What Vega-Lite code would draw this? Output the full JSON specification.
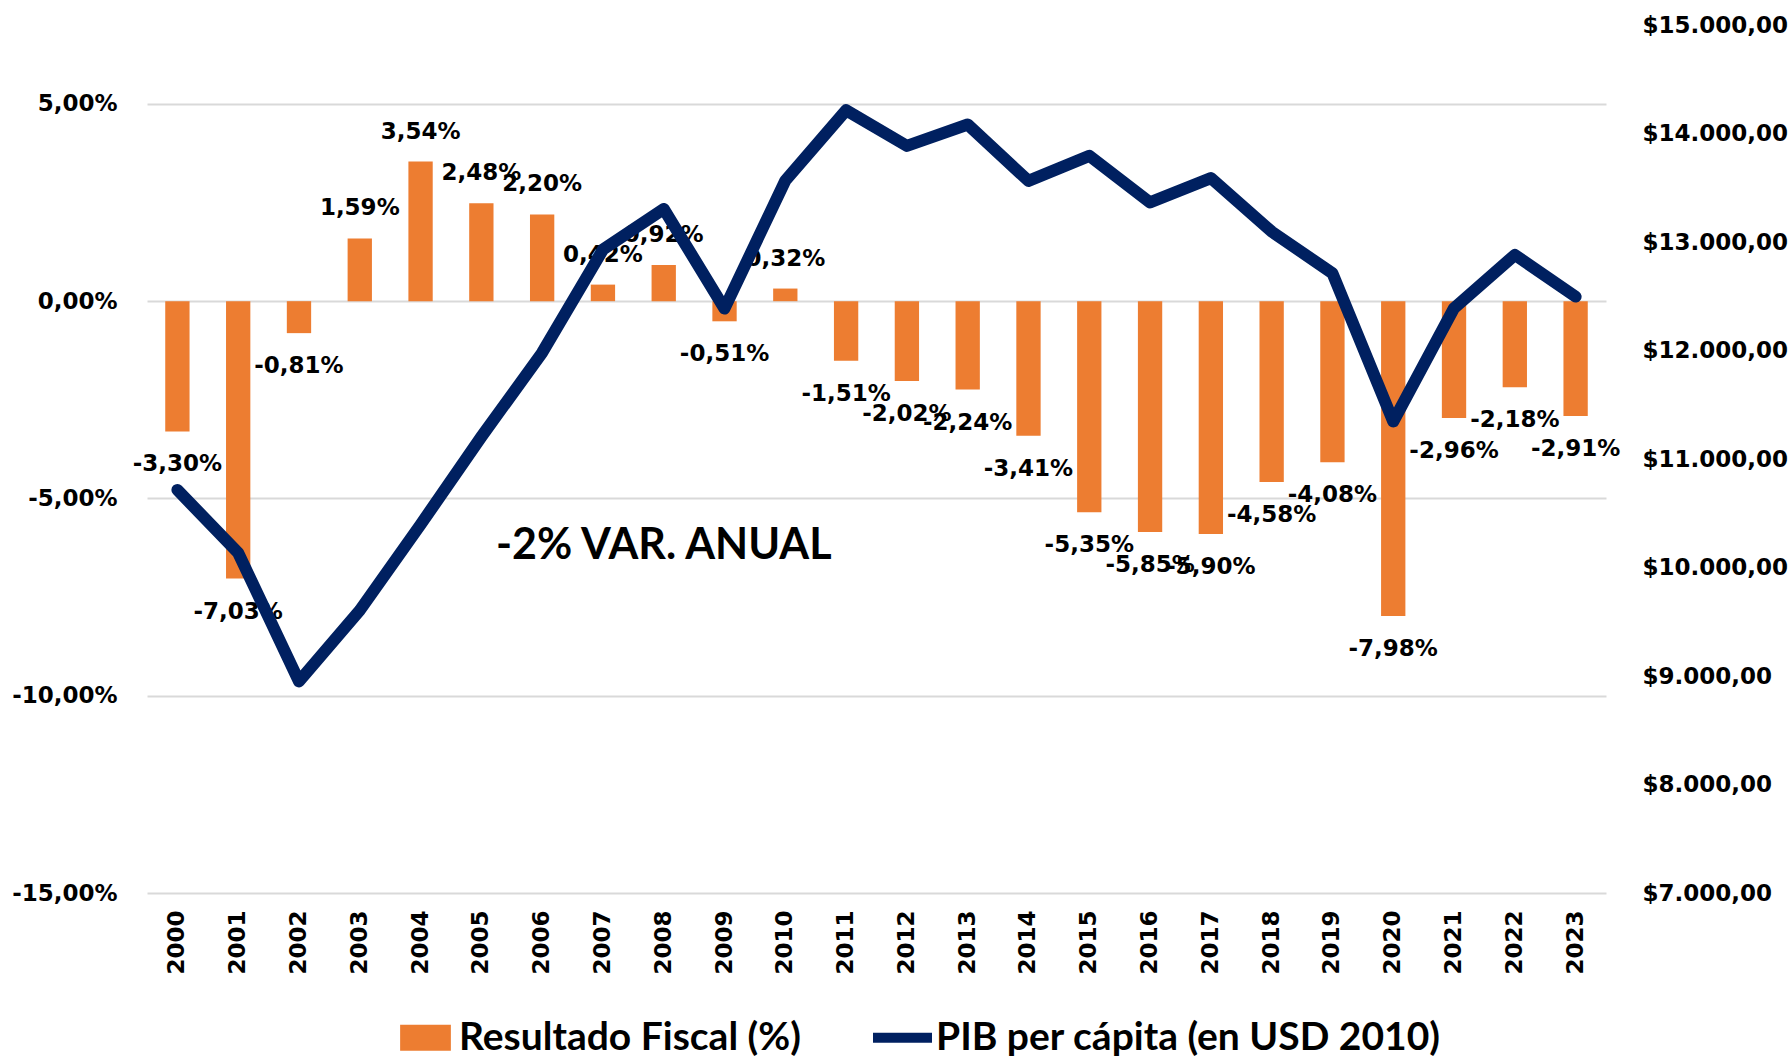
{
  "$schema": "https://vega.github.io/schema/vega-lite/v6.json",
  "width": 1459,
  "height": 868,
  "autosize": "none",
  "padding": {"left": 147, "top": 25, "right": 185, "bottom": 165},
  "background": "#ffffff",
  "config": {
    "locale": {"number": {"decimal": ",", "thousands": ".", "grouping": [3], "currency": ["$", ""], "minus": "-"}},
    "view": {"stroke": null},
    "axis": {"labelFont": "DejaVu Sans", "labelFontWeight": "bold", "labelFontSize": 23, "labelColor": "#000000", "ticks": false, "domain": false}
  },
  "datasets": {
    "main": [
      {"year": "2000", "resultado": -0.0330, "pib": 10715},
      {"year": "2001", "resultado": -0.0703, "pib": 10135},
      {"year": "2002", "resultado": -0.0081, "pib": 8950},
      {"year": "2003", "resultado": 0.0159, "pib": 9605},
      {"year": "2004", "resultado": 0.0354, "pib": 10395},
      {"year": "2005", "resultado": 0.0248, "pib": 11205},
      {"year": "2006", "resultado": 0.0220, "pib": 11980},
      {"year": "2007", "resultado": 0.0042, "pib": 12930},
      {"year": "2008", "resultado": 0.0092, "pib": 13305},
      {"year": "2009", "resultado": -0.0051, "pib": 12387},
      {"year": "2010", "resultado": 0.0032, "pib": 13566},
      {"year": "2011", "resultado": -0.0151, "pib": 14214},
      {"year": "2012", "resultado": -0.0202, "pib": 13886},
      {"year": "2013", "resultado": -0.0224, "pib": 14083},
      {"year": "2014", "resultado": -0.0341, "pib": 13563},
      {"year": "2015", "resultado": -0.0535, "pib": 13794},
      {"year": "2016", "resultado": -0.0585, "pib": 13365},
      {"year": "2017", "resultado": -0.0590, "pib": 13589},
      {"year": "2018", "resultado": -0.0458, "pib": 13096},
      {"year": "2019", "resultado": -0.0408, "pib": 12712},
      {"year": "2020", "resultado": -0.0798, "pib": 11345},
      {"year": "2021", "resultado": -0.0296, "pib": 12390},
      {"year": "2022", "resultado": -0.0218, "pib": 12881},
      {"year": "2023", "resultado": -0.0291, "pib": 12497}
    ],
    "note": [
      {"year": "2008", "resultado": -0.062, "label": "-2% VAR. ANUAL"}
    ]
  },
  "layer": [
    {
      "layer": [
        {
          "data": {"name": "main"},
          "mark": {"type": "bar"},
          "encoding": {
            "x": {"field": "year", "type": "ordinal", "scale": {"paddingInner": 0.6, "paddingOuter": 0.3},
                  "axis": {"title": null, "labelAngle": -90, "labelPadding": 17, "grid": false}},
            "y": {"field": "resultado", "type": "quantitative",
                  "scale": {"domain": [-0.15, 0.07], "nice": false, "zero": false},
                  "axis": {"title": null, "orient": "left", "values": [-0.15, -0.1, -0.05, 0, 0.05], "format": ".2%", "grid": true, "gridColor": "#D9D9D9", "gridWidth": 2, "labelPadding": 30}},
            "color": {"datum": "Resultado Fiscal (%)", "type": "nominal",
                      "scale": {"domain": ["Resultado Fiscal (%)", "PIB per cápita (en USD 2010)"], "range": ["#ED7D31", "#002060"]},
                      "legend": {"orient": "none", "legendX": 249, "legendY": 983, "direction": "horizontal", "title": null,
                                 "labelFont": "Lato", "labelFontSize": 39, "labelFontWeight": "bold", "labelColor": "#000000",
                                 "labelLimit": 1000, "labelOffset": 4, "columnPadding": 72, "symbolSize": 3481, "symbolStrokeWidth": 0,
                                 "encode": {"symbols": {"update": {
                                   "shape": {"signal": "datum.value === 'Resultado Fiscal (%)' ? 'M-0.86,-0.44H0.86V0.44H-0.86Z' : 'M-1,-0.17H1V0.17H-1Z'"},
                                   "fill": {"signal": "datum.value === 'Resultado Fiscal (%)' ? '#ED7D31' : '#002060'"},
                                   "stroke": {"value": "transparent"},
                                   "strokeWidth": {"value": 0},
                                   "opacity": {"value": 1}
                                 }}}}}
          }
        },
        {
          "data": {"name": "main"},
          "transform": [{"filter": "datum.resultado >= 0"}],
          "mark": {"type": "text", "font": "DejaVu Sans", "fontWeight": "bold", "fontSize": 23, "color": "#000000", "baseline": "middle", "dy": -30},
          "encoding": {
            "x": {"field": "year", "type": "ordinal"},
            "y": {"field": "resultado", "type": "quantitative"},
            "text": {"field": "resultado", "type": "quantitative", "format": ".2%"}
          }
        },
        {
          "data": {"name": "main"},
          "transform": [{"filter": "datum.resultado < 0"}],
          "mark": {"type": "text", "font": "DejaVu Sans", "fontWeight": "bold", "fontSize": 23, "color": "#000000", "baseline": "middle", "dy": 33},
          "encoding": {
            "x": {"field": "year", "type": "ordinal"},
            "y": {"field": "resultado", "type": "quantitative"},
            "text": {"field": "resultado", "type": "quantitative", "format": ".2%"}
          }
        },
        {
          "data": {"name": "note"},
          "mark": {"type": "text", "font": "Lato", "fontWeight": "bold", "fontSize": 43, "color": "#000000", "baseline": "middle", "align": "center"},
          "encoding": {
            "x": {"field": "year", "type": "ordinal"},
            "y": {"field": "resultado", "type": "quantitative"},
            "text": {"field": "label", "type": "nominal"}
          }
        }
      ]
    },
    {
      "data": {"name": "main"},
      "mark": {"type": "line", "strokeWidth": 12, "strokeCap": "round", "strokeJoin": "round"},
      "encoding": {
        "x": {"field": "year", "type": "ordinal"},
        "y": {"field": "pib", "type": "quantitative",
              "scale": {"domain": [7000, 15000], "nice": false, "zero": false},
              "axis": {"title": null, "orient": "right", "values": [7000, 8000, 9000, 10000, 11000, 12000, 13000, 14000, 15000], "format": "$,.2f", "grid": false, "labelPadding": 36}},
        "color": {"datum": "PIB per cápita (en USD 2010)", "type": "nominal"}
      }
    }
  ],
  "resolve": {"scale": {"y": "independent"}}
}
